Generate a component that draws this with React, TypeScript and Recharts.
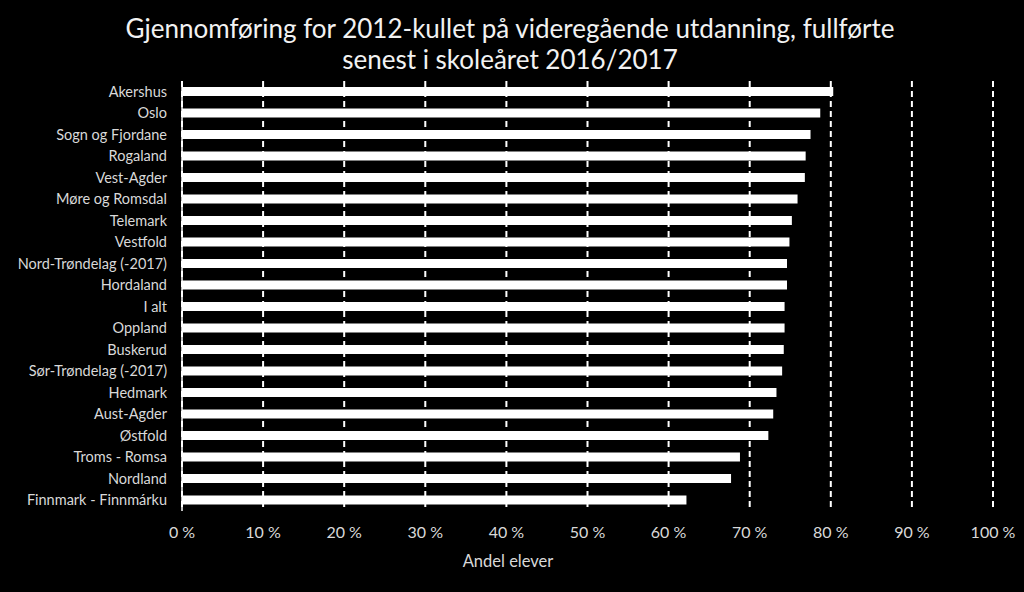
import React from 'react';
import { BarChart, Bar, XAxis, YAxis, CartesianGrid } from 'recharts';

const counties = [
  'Akershus', 'Oslo', 'Sogn og Fjordane', 'Rogaland', 'Vest-Agder', 'Møre og Romsdal',
  'Telemark', 'Vestfold', 'Nord-Trøndelag (-2017)', 'Hordaland', 'I alt', 'Oppland',
  'Buskerud', 'Sør-Trøndelag (-2017)', 'Hedmark', 'Aust-Agder', 'Østfold',
  'Troms - Romsa', 'Nordland', 'Finnmark - Finnmárku',
];
const shares = [
  80.3, 78.7, 77.5, 76.9, 76.8, 75.9, 75.2, 74.9, 74.6, 74.6, 74.3, 74.3,
  74.2, 74.0, 73.3, 72.9, 72.3, 68.8, 67.7, 62.2,
];
const xTicks = [0, 10, 20, 30, 40, 50, 60, 70, 80, 90, 100];
const titleLines = [
  'Gjennomføring for 2012-kullet på videregående utdanning, fullførte',
  'senest i skoleåret 2016/2017',
];
const axisTitle = 'Andel elever';

const data = counties.map((c, i) => ({ name: c, value: shares[i] }));

const FONT = "Lato, 'Open Sans', sans-serif";

export default function App() {
  return (
    <div style={{ position: 'fixed', left: 0, top: 0, width: 1024, height: 592, background: '#000', fontFamily: FONT }}>
      {titleLines.map((t, i) => (
        <div key={i} style={{ position: 'absolute', left: 0, width: 1020, top: 13 + i * 31, textAlign: 'center', color: '#f2f2f2', fontSize: 26, lineHeight: '31px', whiteSpace: 'nowrap' }}>{t}</div>
      ))}
      <BarChart
        width={1024}
        height={592}
        data={data}
        layout="vertical"
        margin={{ top: 81, right: 31, bottom: 51, left: 12 }}
        style={{ position: 'absolute', left: 0, top: 0 }}
      >
        <CartesianGrid horizontal={false} vertical stroke="#ffffff" strokeWidth={2} strokeDasharray="6 4" />
        <XAxis
          type="number"
          domain={[0, 100]}
          ticks={xTicks}
          tickFormatter={(v) => `${v} %`}
          axisLine={false}
          tickLine={false}
          tickSize={0}
          tickMargin={16}
          height={30}
          interval={0}
          tick={{ fill: '#d9d9d9', fontSize: 16, fontFamily: FONT }}
        />
        <YAxis
          type="category"
          dataKey="name"
          width={170}
          axisLine={{ stroke: '#ffffff', strokeWidth: 1.5 }}
          tickLine={false}
          tickSize={0}
          tickMargin={15}
          interval={0}
          tick={{ fill: '#d9d9d9', fontSize: 14.5, fontFamily: FONT }}
        />
        <Bar dataKey="value" fill="#ffffff" barSize={9} isAnimationActive={false} />
      </BarChart>
      <div style={{ position: 'absolute', left: 408, width: 200, top: 550, textAlign: 'center', color: '#d9d9d9', fontSize: 16.5, lineHeight: '22px' }}>{axisTitle}</div>
    </div>
  );
}
